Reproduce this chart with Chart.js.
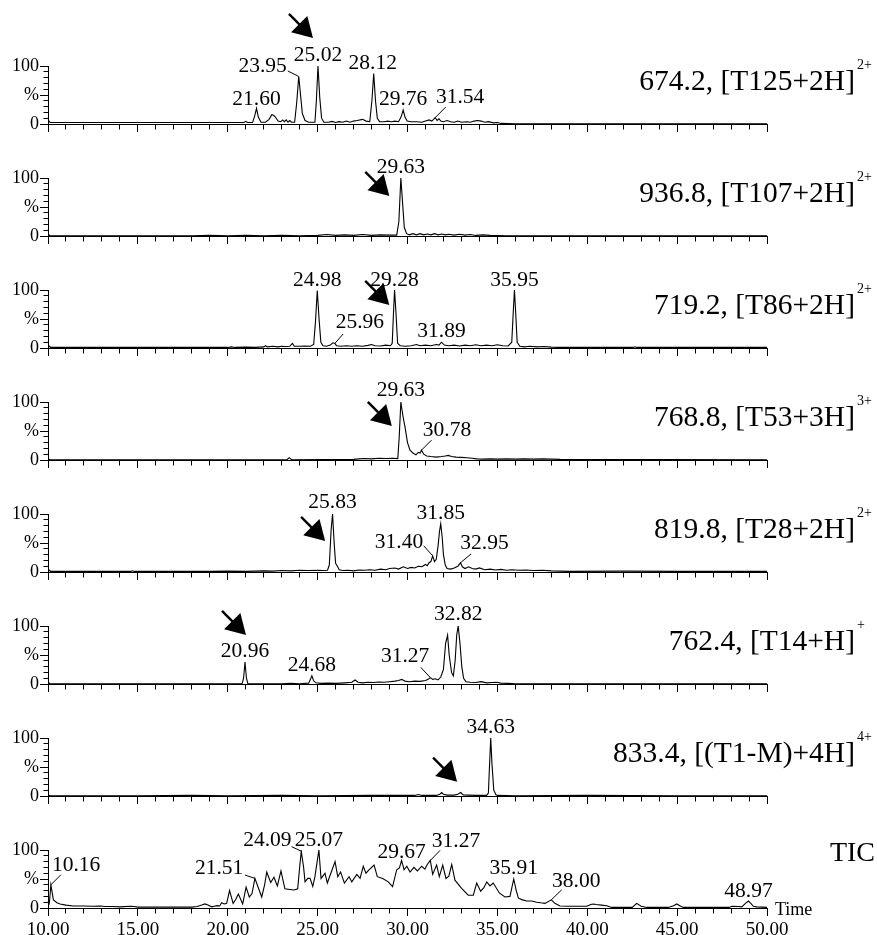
<!DOCTYPE html>
<html>
<head>
<meta charset="utf-8">
<title>Extracted ion chromatograms</title>
<script src="https://cdn.jsdelivr.net/npm/chart.js@4.4.1/dist/chart.umd.min.js"></script>
<style>
  html, body { margin: 0; padding: 0; background: #fff; }
  #wrap { position: relative; width: 877px; height: 935px; }
  #wrap canvas { position: absolute; left: 0; top: 0; }
</style>
</head>
<body>
<div id="wrap"></div>
<script>
// ---- Retention-time traces: [time (min), relative abundance (%)] ----
const trace6742 = [[10.00,2.5],[10.06,5],[10.12,2.5],[12.0,2.5],[14.0,2.5],[16.0,2.5],[18.0,2.5],[20.0,2.5],[20.9,2.5],[21.0,4.5],[21.1,2.5],[21.38,2.5],[21.5,14],[21.60,27],[21.7,12],[21.85,3],[22.1,3],[22.3,8],[22.45,16],[22.55,15],[22.65,12],[22.8,5],[22.95,4],[23.05,7],[23.15,4],[23.25,7],[23.35,3],[23.45,6],[23.55,3],[23.72,3],[23.83,35],[23.95,82],[24.05,50],[24.15,18],[24.3,6],[24.5,3],[24.85,3],[24.93,40],[25.02,100],[25.12,45],[25.22,10],[25.35,3],[25.6,3],[25.8,4.5],[26.0,2.5],[26.2,4],[26.4,3],[26.6,5],[26.8,3],[27.0,5],[27.2,6],[27.5,8],[27.7,5],[27.9,4],[28.02,40],[28.12,87],[28.22,40],[28.32,10],[28.45,4],[28.7,4],[28.9,5],[29.1,4],[29.3,5],[29.5,4],[29.64,12],[29.76,24],[29.86,12],[29.98,5],[30.2,4],[30.5,4],[30.8,3],[31.0,5],[31.2,7],[31.35,5],[31.45,8],[31.54,11],[31.65,6],[31.75,9],[31.85,5],[32.0,4],[32.2,6],[32.4,4],[32.6,3],[32.8,5],[33.0,3],[33.3,4],[33.5,3],[33.7,5],[33.9,6],[34.1,5],[34.3,3],[34.5,4],[34.8,2],[35.0,2.5],[35.2,1],[36.0,0.5],[50.0,0.5]];
const trace9368 = [[10.00,0.5],[10.05,2],[10.1,0.5],[18.0,0.5],[19.0,1],[20.0,0.5],[21.0,1],[22.0,0.5],[23.0,1],[24.0,0.5],[25.0,1],[25.5,2.5],[26.0,1],[26.5,2],[27.0,1],[27.5,2.5],[28.0,1],[28.5,2],[29.0,1.5],[29.4,1.5],[29.52,25],[29.63,100],[29.72,60],[29.82,15],[29.95,4],[30.1,2],[30.3,4],[30.5,2],[30.7,4],[30.9,2],[31.1,3.5],[31.3,2],[31.5,4],[31.7,2],[31.9,3.5],[32.1,2],[32.3,3],[32.6,1.5],[32.9,3],[33.2,1.5],[33.5,2.5],[33.8,1],[34.2,2],[34.6,1],[35.5,0.5],[50.0,0.5]];
const trace7192 = [[10.00,1],[10.08,3],[10.15,1],[20.0,1],[20.2,2],[20.4,1],[21.0,1.5],[21.5,1],[22.0,2],[22.1,4],[22.2,2],[22.5,3],[22.8,2],[23.0,3],[23.2,2.5],[23.45,3],[23.6,8],[23.7,3],[24.0,3],[24.3,3.5],[24.6,3],[24.78,6],[24.88,45],[24.98,99],[25.08,50],[25.18,10],[25.3,4],[25.5,3],[25.7,5],[25.85,9],[25.96,8],[26.05,4],[26.3,3],[26.6,4],[26.9,3],[27.2,4],[27.5,3],[27.8,4.5],[28.0,6],[28.2,4],[28.5,3.5],[28.8,5],[29.05,4],[29.15,8],[29.22,60],[29.28,100],[29.36,60],[29.45,8],[29.6,4],[29.9,3],[30.2,4],[30.5,6],[30.7,4],[31.0,5],[31.3,4],[31.6,6],[31.75,5],[31.89,10],[32.05,5],[32.3,4],[32.6,5],[32.9,3.5],[33.2,5],[33.5,4],[33.8,5.5],[34.1,4],[34.4,5],[34.7,4],[35.0,5.5],[35.3,4],[35.6,3.5],[35.8,10],[35.88,60],[35.95,100],[36.02,60],[36.1,10],[36.25,3],[36.5,2],[36.8,3],[37.2,2],[37.6,2.5],[38.0,1.5],[38.4,1],[42.55,1],[42.65,2],[42.75,1],[50.0,1]];
const trace7688 = [[10.00,0.5],[10.05,1.5],[10.1,0.5],[23.3,0.5],[23.42,4],[23.55,0.5],[27.0,1],[27.3,2],[27.6,2.5],[28.0,2],[28.4,3],[28.8,2.5],[29.2,3],[29.46,2.5],[29.54,40],[29.63,100],[29.75,75],[29.86,57],[30.0,30],[30.14,17],[30.3,12],[30.47,9],[30.6,13],[30.7,12],[30.78,17],[30.9,10],[31.07,7],[31.3,6],[31.6,5],[31.9,6],[32.1,7],[32.27,8],[32.45,6],[32.7,5],[33.0,4.5],[33.3,4],[33.6,3],[33.85,2],[34.2,1.5],[34.6,2],[35.0,1.5],[35.5,2],[36.0,1.5],[36.5,2],[37.0,1.5],[37.5,2],[38.0,1.5],[38.5,1],[50.0,0.5]];
const trace8198 = [[10.00,1],[10.08,3],[10.15,1],[14.6,1],[14.7,2],[14.8,1],[19.0,1],[20.0,1.5],[21.0,1],[22.0,2],[22.5,1.5],[23.0,2.5],[23.5,2],[24.0,3],[24.5,2.5],[25.0,3],[25.3,2.5],[25.55,3],[25.65,12],[25.75,72],[25.83,100],[25.92,50],[26.0,15],[26.1,10],[26.2,4],[26.4,2.5],[26.7,3],[27.0,2],[27.3,3.5],[27.6,3],[27.9,4],[28.2,3],[28.5,5],[28.8,4],[29.0,6],[29.3,7],[29.5,5],[29.77,9],[30.0,6],[30.2,8],[30.4,7],[30.6,10],[30.8,9],[31.0,13],[31.1,11],[31.2,16],[31.3,18],[31.40,28],[31.5,18],[31.6,22],[31.7,45],[31.78,70],[31.85,83],[31.93,60],[32.0,30],[32.1,12],[32.2,6],[32.4,5],[32.6,7],[32.8,10],[32.95,16],[33.05,9],[33.2,6],[33.4,9],[33.6,6],[33.8,5],[34.0,7],[34.3,4],[34.6,5],[34.9,3.5],[35.2,4.5],[35.5,3],[35.8,4],[36.2,3],[36.6,3.5],[37.0,2.5],[37.5,3],[38.0,2],[38.5,1.5],[39.0,1],[42.0,1.5],[45.0,1],[50.0,1]];
const trace7624 = [[10.00,0.5],[10.05,2],[10.1,0.5],[20.8,0.5],[20.88,10],[20.96,38],[21.04,10],[21.12,0.5],[23.0,0.5],[23.5,1],[24.0,0.5],[24.5,1.5],[24.6,8],[24.68,14],[24.77,6],[24.9,2],[25.2,1],[25.6,1.5],[26.0,1],[26.5,2],[26.9,3],[27.08,7],[27.25,3],[27.5,2],[27.8,3],[28.1,2.5],[28.4,3.5],[28.7,3],[29.0,4],[29.3,5],[29.5,6],[29.68,8],[29.85,5],[30.1,4],[30.4,5],[30.7,4.5],[31.0,6],[31.15,8],[31.27,11],[31.4,8],[31.55,9],[31.7,7],[31.85,12],[32.0,25],[32.12,70],[32.23,84],[32.32,50],[32.45,20],[32.55,14],[32.65,40],[32.74,85],[32.82,100],[32.92,70],[33.02,30],[33.12,10],[33.25,4],[33.5,3],[33.8,2.5],[34.1,4],[34.4,2],[34.7,2.5],[34.96,3],[35.2,1.5],[35.6,1],[36.0,0.5],[50.0,0.5]];
const trace8334 = [[10.00,0.5],[10.05,1.5],[10.1,0.5],[15.0,0.5],[18.0,1],[20.0,0.5],[23.0,1],[25.0,0.5],[28.0,1],[30.4,1],[30.6,2.5],[30.8,1],[31.6,1],[31.8,3],[31.9,6],[32.0,3],[32.2,1.5],[32.6,1.5],[32.8,3],[32.96,6],[33.1,2],[33.4,1.5],[33.8,1],[34.4,1],[34.5,5],[34.56,50],[34.63,100],[34.7,55],[34.8,10],[34.92,2],[35.0,1],[36.0,0.5],[40.0,1],[45.0,0.5],[50.0,0.5]];
const traceTIC = [[10.00,0],[10.08,10],[10.16,40],[10.3,14],[10.5,9],[10.67,7],[11.0,5],[11.4,3.5],[12.0,3.5],[12.5,3],[12.9,3.5],[13.2,2.5],[13.6,2.5],[14.0,2],[14.56,3],[14.8,2.5],[15.0,1.5],[16.0,1.5],[17.0,1.5],[18.0,1.5],[18.3,2.5],[18.55,5],[18.73,7],[18.9,5],[19.1,2],[19.25,3],[19.4,4],[19.55,3.5],[19.66,9],[19.8,7],[19.94,8],[20.1,30],[20.3,8],[20.45,15],[20.59,24],[20.83,7],[21.02,36],[21.2,19],[21.35,25],[21.51,51],[21.7,35],[21.89,19],[22.05,40],[22.17,62],[22.39,44],[22.57,53],[22.76,38],[22.96,64],[23.18,33],[23.46,32],[23.7,31],[23.89,33],[24.0,70],[24.09,98],[24.22,70],[24.3,45],[24.45,51],[24.58,51],[24.73,37],[24.85,54],[25.07,100],[25.19,51],[25.41,60],[25.54,43],[25.97,80],[26.12,54],[26.28,62],[26.49,43],[26.75,54],[26.9,45],[27.18,58],[27.36,51],[27.54,72],[27.69,60],[27.87,66],[28.14,74],[28.32,54],[28.62,51],[28.93,45],[29.17,37],[29.4,66],[29.55,69],[29.67,82],[29.81,66],[29.96,72],[30.14,62],[30.36,70],[30.55,64],[30.79,72],[30.97,67],[31.1,75],[31.27,82],[31.4,58],[31.62,74],[31.77,54],[31.96,74],[32.14,51],[32.3,55],[32.46,75],[32.64,48],[33.01,34],[33.38,22],[33.66,22],[33.85,43],[34.07,29],[34.25,35],[34.41,45],[34.59,38],[34.77,43],[35.11,26],[35.42,19],[35.7,20],[35.91,50],[36.05,30],[36.17,17],[36.4,14],[36.63,12],[36.9,12],[37.19,10],[37.4,9],[37.65,8],[38.00,14],[38.2,8],[38.48,3.5],[39.0,3],[39.97,3],[40.2,6],[40.33,7],[40.5,6],[40.8,5],[41.08,4],[41.36,1],[42.0,1],[42.5,1],[42.75,8],[43.0,3],[43.31,1],[44.5,1],[44.8,4],[44.98,7],[45.2,3],[45.35,1],[47.9,1],[48.04,3],[48.4,2.5],[48.6,2],[48.8,8],[48.97,12],[49.1,8],[49.24,3],[49.42,2],[50.0,1]];

// ---- Labelled peak apexes (retention times) ----
const peaks6742 = [21.60, 23.95, 25.02, 28.12, 29.76, 31.54];
const peaks9368 = [29.63];
const peaks7192 = [24.98, 25.96, 29.28, 31.89, 35.95];
const peaks7688 = [29.63, 30.78];
const peaks8198 = [25.83, 31.40, 31.85, 32.95];
const peaks7624 = [20.96, 24.68, 31.27, 32.82];
const peaks8334 = [34.63];
const peaksTIC  = [10.16, 21.51, 24.09, 25.07, 29.67, 31.27, 35.91, 38.00, 48.97];

// Peak of interest in each extracted-ion trace (marked with an arrow)
const targetTimes = [25.02, 29.63, 29.28, 29.63, 25.83, 20.96, 32.96, null];

// ---- Trace captions ----
const traceTags    = ['674.2, [T125+2H]', '936.8, [T107+2H]', '719.2, [T86+2H]', '768.8, [T53+3H]',
                      '819.8, [T28+2H]', '762.4, [T14+H]', '833.4, [(T1-M)+4H]', 'TIC'];
const traceCharges = ['2+', '2+', '2+', '3+', '2+', '+', '4+', ''];

// ---- Axis ----
const timeRange = [10, 50];
const timeTickEvery = 5;

// ---------------------------------------------------------------
const traces = [trace6742, trace9368, trace7192, trace7688, trace8198, trace7624, trace8334, traceTIC];
const peakSets = [peaks6742, peaks9368, peaks7192, peaks7688, peaks8198, peaks7624, peaks8334, peaksTIC];

// Placement of each peak label relative to its apex (pixels); `lead` = start of a leader line
const labelPlacement = [
  [{dy:-3.5}, {align:'right', dx:-12, dy:-4.5, lead:[-11,-5.5]}, {dy:-5}, {dx:-1, dy:-4.5}, {dy:-5}, {dx:25, dy:-14.5, lead:[10.5,-10.5]}],
  [{dy:-5}],
  [{dy:-4.6}, {dx:25, dy:-15.4, lead:[8.3,-9.4]}, {dy:-4}, {dy:-5}, {dy:-4}],
  [{dy:-6}, {dx:25.5, dy:-14, lead:[10,-10]}],
  [{dy:-6}, {align:'right', dx:-9.5, dy:-8, lead:[-9,-10]}, {dy:-5}, {dx:24, dy:-13.7, lead:[10.5,-8.7]}],
  [{dy:-5}, {dy:-5}, {align:'right', dx:-1, dy:-15.6, lead:[-9.6,-10.3]}, {dy:-6}],
  [{dy:-5}],
  [{align:'left', dx:1, dy:-14, lead:[10,-10]}, {align:'right', dx:-11.6, dy:-4.4, lead:[-10,-3.4]},
   {align:'right', dx:-9.7, dy:-5, lead:[-9.7,-4.5]}, {dy:-4}, {dy:-2}, {dx:25.7, dy:-13.3, lead:[9.7,-10]},
   {dy:-5}, {dx:25, dy:-13, lead:[10.3,-10]}, {dy:-4}]
];
// Arrow tip offset from the apex of the marked peak (pixels)
const arrowTipOffset = [[-5,-28], [-11.5,18], [-5.3,15], [-9,24], [-7.4,27], [1,-27], [-3.6,-10.8], null];

const SERIF = '"Liberation Serif", "Times New Roman", serif';
const PANEL_PITCH = 112, FIRST_TOP = 66, PANEL_H = 58, W = 877, H = 935, AXIS_H = 27;

Chart.defaults.font.family = SERIF;
Chart.defaults.color = '#000';

function apexValue(trace, t) {
  const p = trace.find(d => Math.abs(d[0] - t) < 1e-6);
  return p ? p[1] : 0;
}

function drawArrow(ctx, tipX, tipY) {
  const len = 34, head = 19.5, half = 11.5;
  const ux = Math.SQRT1_2, uy = Math.SQRT1_2;
  const bx = tipX - head * ux, by = tipY - head * uy;
  ctx.lineWidth = 2.4;
  ctx.beginPath();
  ctx.moveTo(tipX - len * ux, tipY - len * uy);
  ctx.lineTo(bx + 2 * ux, by + 2 * uy);
  ctx.stroke();
  ctx.beginPath();
  ctx.moveTo(tipX, tipY);
  ctx.lineTo(bx - half * uy, by + half * ux);
  ctx.lineTo(bx + half * uy, by - half * ux);
  ctx.closePath();
  ctx.fill();
}

function annotations(idx) {
  return {
    id: 'annotations' + idx,
    afterDraw(chart) {
      const ctx = chart.ctx, xs = chart.scales.x, ys = chart.scales.y;
      const trace = traces[idx];
      ctx.save();
      ctx.fillStyle = '#000';
      ctx.strokeStyle = '#000';
      ctx.textBaseline = 'alphabetic';

      // peak retention-time labels
      ctx.font = '21.5px ' + SERIF;
      peakSets[idx].forEach((t, k) => {
        const px = xs.getPixelForValue(t);
        const py = ys.getPixelForValue(apexValue(trace, t));
        const pl = labelPlacement[idx][k] || {};
        ctx.textAlign = pl.align || 'center';
        ctx.fillText(t.toFixed(2), px + (pl.dx || 0), py + (pl.dy === undefined ? -5 : pl.dy));
        if (pl.lead) {
          ctx.lineWidth = 1;
          ctx.beginPath();
          ctx.moveTo(px + pl.lead[0], py + pl.lead[1]);
          ctx.lineTo(px, py);
          ctx.stroke();
        }
      });

      // arrow to the peak of interest
      if (targetTimes[idx] !== null) {
        const t = targetTimes[idx];
        const px = xs.getPixelForValue(t), py = ys.getPixelForValue(apexValue(trace, t));
        drawArrow(ctx, px + arrowTipOffset[idx][0], py + arrowTipOffset[idx][1]);
      }

      // caption on the right
      const base = ys.getPixelForValue(100) + 24;
      if (traceCharges[idx]) {
        ctx.textAlign = 'right';
        ctx.font = '29.5px ' + SERIF;
        ctx.fillText(traceTags[idx], 855, base);
        ctx.textAlign = 'left';
        ctx.font = '14px ' + SERIF;
        ctx.fillText(traceCharges[idx], 857, base - 21);
      } else {
        ctx.textAlign = 'right';
        ctx.font = '28px ' + SERIF;
        ctx.fillText(traceTags[idx], 875, base - 13);
        // axis title
        ctx.textAlign = 'left';
        ctx.font = '18px ' + SERIF;
        ctx.fillText('Time', 775, ys.getPixelForValue(0) + 7);
      }
      ctx.restore();
    }
  };
}

const wrap = document.getElementById('wrap');
traces.forEach((trace, i) => {
  const canvas = document.createElement('canvas');
  canvas.width = W; canvas.height = H;
  canvas.style.width = W + 'px'; canvas.style.height = H + 'px';
  wrap.appendChild(canvas);
  const top = FIRST_TOP + PANEL_PITCH * i;
  const isLast = i === traces.length - 1;
  new Chart(canvas, {
    type: 'line',
    data: {
      datasets: [{
        data: trace.map(([x, y]) => ({x, y})),
        borderColor: '#000',
        borderWidth: 1.1,
        pointRadius: 0,
        tension: 0,
        fill: false
      }]
    },
    options: {
      responsive: false,
      animation: false,
      devicePixelRatio: 1,
      events: [],
      layout: { padding: { left: 0, right: W - 767, top: top, bottom: H - (top + PANEL_H) - AXIS_H } },
      plugins: { legend: { display: false }, tooltip: { enabled: false } },
      scales: {
        x: {
          type: 'linear',
          min: timeRange[0], max: timeRange[1],
          afterFit: s => { s.height = AXIS_H; },
          border: { display: true, color: '#000', width: 1 },
          grid: {
            drawOnChartArea: false, drawTicks: true, tickLength: 8, tickColor: '#000', tickWidth: 1,
            tickBorderDash: c => (c.tick && Math.round(c.tick.value) % timeTickEvery === 0) ? [] : [4.5, 30]
          },
          ticks: {
            stepSize: 1, autoSkip: false, maxRotation: 0, padding: 3,
            font: { size: 19, family: SERIF }, color: '#000',
            callback: v => (isLast && Math.round(v) % timeTickEvery === 0) ? Number(v).toFixed(2) : ''
          }
        },
        y: {
          min: 0, max: 100,
          afterFit: s => { s.width = 48; },
          border: { display: true, color: '#000', width: 1 },
          grid: {
            drawOnChartArea: false, drawTicks: true, tickLength: 8, tickColor: '#000', tickWidth: 1,
            tickBorderDash: c => (c.tick && Math.round(c.tick.value) % 50 === 0) ? [] : [0, 3.5, 4.5, 30]
          },
          ticks: {
            stepSize: 10, autoSkip: false, padding: 1,
            font: { size: 18, family: SERIF }, color: '#000',
            callback: v => v === 100 ? '100' : v === 50 ? '%' : v === 0 ? '0' : ''
          }
        }
      }
    },
    plugins: [annotations(i)]
  });
});
</script>
</body>
</html>
